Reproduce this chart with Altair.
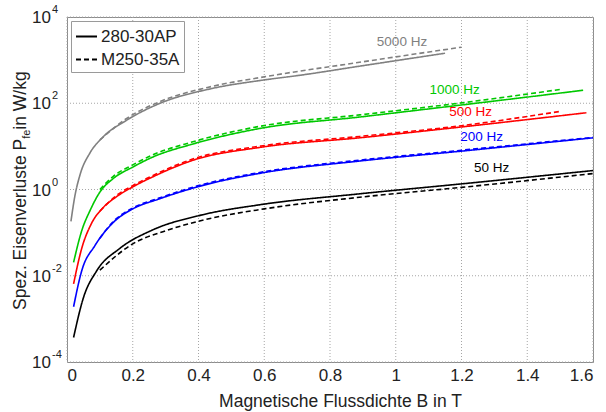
import altair as alt
import pandas as pd

FONT = "Liberation Sans"
TXT = "#222222"

# ---------------- data ----------------
freqs = ["50 Hz", "200 Hz", "500 Hz", "1000 Hz", "5000 Hz"]
freq_colors = ["#000000", "#0000ff", "#ff0000", "#00c800", "#808080"]
materials = ["280-30AP", "M250-35A"]

# 50 Hz
B50_ap = [0.02, 0.05, 0.09, 0.16, 0.26, 0.41, 0.59, 0.89, 1.2, 1.6]
P50_ap = [3.7e-4, 3.1e-3, 0.0129, 0.0427, 0.115, 0.257, 0.447, 0.794, 1.35, 2.75]
B50_a = [0.1, 0.2, 0.3, 0.42, 0.6, 0.89, 1.2, 1.6]
P50_a = [0.0135, 0.055, 0.11, 0.2, 0.355, 0.661, 1.12, 2.34]
# 200 Hz
B200_ap = [0.02, 0.045, 0.085, 0.14, 0.2, 0.28, 0.4, 0.59, 0.89, 1.2, 1.6]
P200_ap = [1.91e-3, 0.0132, 0.0501, 0.17, 0.355, 0.603, 1.17, 2.4, 4.57, 7.76, 15.8]
B200_a = [0.1, 0.14, 0.2, 0.28, 0.4, 0.59, 0.89, 1.2, 1.6]
P200_a = [0.0741, 0.178, 0.372, 0.631, 1.23, 2.51, 4.79, 8.13, 16.2]
# 500 Hz
B500_ap = [0.02, 0.045, 0.075, 0.11, 0.15, 0.2, 0.26, 0.38, 0.59, 0.89, 1.2, 1.58]
P500_ap = [6.5e-3, 0.0437, 0.166, 0.38, 0.676, 1.15, 1.95, 4.68, 9.55, 15.8, 28.2, 60.3]
B500_a = [0.1, 0.15, 0.2, 0.26, 0.38, 0.59, 0.89, 1.2, 1.5]
P500_a = [0.316, 0.724, 1.23, 2.09, 5.01, 10.2, 17.0, 30.2, 64.6]
# 1000 Hz
B1000_ap = [0.02, 0.045, 0.07, 0.1, 0.14, 0.2, 0.26, 0.38, 0.59, 0.89, 1.2, 1.57]
P1000_ap = [0.0204, 0.112, 0.324, 0.871, 1.78, 3.31, 5.62, 11.2, 26.3, 47.9, 91.2, 200]
B1000_a = [0.1, 0.14, 0.2, 0.26, 0.38, 0.59, 0.89, 1.2, 1.5]
P1000_a = [1.0, 2.0, 3.72, 6.31, 12.6, 29.5, 53.7, 102, 209]
# 5000 Hz
B5000_ap = [0.012, 0.024, 0.04, 0.07, 0.11, 0.18, 0.28, 0.44, 0.59, 0.71, 0.89, 1.15]
P5000_ap = [0.182, 0.708, 2.24, 7.08, 16.6, 39.8, 97.7, 219, 339, 447, 724, 1445]
B5000_a = [0.1, 0.18, 0.28, 0.44, 0.59, 0.89, 1.2]
P5000_a = [14.1, 43.7, 107, 245, 398, 891, 1995]

# curve labels
label_text = ["5000 Hz", "1000 Hz", "500 Hz", "200 Hz", "50 Hz"]
label_B = [1.019, 1.179, 1.228, 1.261, 1.292]
label_P = [2690, 200, 63, 16.4, 3.08]

x_ticks = [0, 0.2, 0.4, 0.6, 0.8, 1.0, 1.2, 1.4, 1.6]
y_ticks = [1e-4, 1e-2, 1, 1e2, 1e4]
y_exps = ["-4", "-2", "0", "2", "4"]

# ---------------- build tables ----------------
series = [
    ("50 Hz", "280-30AP", B50_ap, P50_ap), ("50 Hz", "M250-35A", B50_a, P50_a),
    ("200 Hz", "280-30AP", B200_ap, P200_ap), ("200 Hz", "M250-35A", B200_a, P200_a),
    ("500 Hz", "280-30AP", B500_ap, P500_ap), ("500 Hz", "M250-35A", B500_a, P500_a),
    ("1000 Hz", "280-30AP", B1000_ap, P1000_ap), ("1000 Hz", "M250-35A", B1000_a, P1000_a),
    ("5000 Hz", "280-30AP", B5000_ap, P5000_ap), ("5000 Hz", "M250-35A", B5000_a, P5000_a),
]
rows = []
for f, m, bs, ps in series:
    for b, p in zip(bs, ps):
        rows.append({"freq": f, "material": m, "B": b, "P": p, "key": f + "|" + m})
df = pd.DataFrame(rows)
labels_df = pd.DataFrame({"freq": label_text, "B": label_B, "P": label_P})
ytick_df = pd.DataFrame({"P": y_ticks, "base": ["10"] * len(y_ticks), "exp": y_exps})
xgrid_df = pd.DataFrame({"B": x_ticks})
ygrid_df = pd.DataFrame({"P": y_ticks})

W, H = 526, 345
x_scale = alt.Scale(domain=[0, 1.6], nice=False, zero=False)
y_scale = alt.Scale(type="log", domain=[1e-4, 1e4], nice=False)
color = alt.Color("freq:N", scale=alt.Scale(domain=freqs, range=freq_colors), legend=None)

ax_kw = dict(grid=False, ticks=False, domain=False)

x_axis = alt.Axis(
    values=x_ticks, labelFontSize=17, labelFont=FONT, labelColor=TXT,
    labelPadding=5,
    labelExpr="datum.value == 0 ? '0' : datum.value == 1 ? '1' : format(datum.value, '.1f')",
    title="Magnetische Flussdichte B in T", titleFont=FONT, titleFontSize=17.5,
    titleFontWeight="normal", titleColor=TXT, titleX=273, titleY=44,
    titleBaseline="alphabetic", titleAlign="center", **ax_kw)
y_axis = alt.Axis(values=y_ticks, labels=False, title=None, **ax_kw)

X = alt.X("B:Q", scale=x_scale, axis=x_axis)
Y = alt.Y("P:Q", scale=y_scale, axis=y_axis)

GRID = dict(color="#a6a6a6", strokeWidth=1, strokeDash=[1, 2], opacity=1)
xgrid = alt.Chart(xgrid_df).mark_rule(**GRID).encode(x=X)
ygrid = alt.Chart(ygrid_df).mark_rule(**GRID).encode(y=Y)

lines = alt.Chart(df).mark_line(strokeWidth=1.6, clip=True, interpolate="monotone").encode(
    x=X,
    y=Y,
    color=color,
    strokeDash=alt.StrokeDash("material:N", scale=alt.Scale(domain=materials, range=[[1, 0], [5, 3]]),
                              legend=alt.Legend(title=None, orient="top-left", offset=4, padding=4,
                                                fillColor="white", strokeColor="#9a9a9a",
                                                labelFontSize=17, labelFont=FONT, labelColor=TXT,
                                                symbolType="stroke", symbolSize=441,
                                                symbolStrokeWidth=2, symbolStrokeColor="black",
                                                rowPadding=3, labelOffset=3, cornerRadius=0)),
    detail="key:N",
    order="B:Q",
)

curve_labels = alt.Chart(labels_df).mark_text(fontSize=13.5, font=FONT, align="center",
                                              baseline="middle").encode(
    x=X, y=Y, text="freq:N", color=color,
)

ybase = alt.Chart(ytick_df).mark_text(align="right", baseline="middle", fontSize=17,
                                      font=FONT, color=TXT, dy=1).encode(
    x=alt.value(-16), y=Y, text="base:N")
yexp = alt.Chart(ytick_df).mark_text(align="left", baseline="middle", fontSize=11,
                                     font=FONT, color=TXT, dy=-7).encode(
    x=alt.value(-15), y=Y, text="exp:N")

# y-axis title with subscript, pieces placed with Arial/Liberation metrics
AW = {" ": 278, ".": 278, "/": 278, "S": 667, "p": 556, "e": 556, "z": 500, "E": 667,
      "i": 222, "s": 500, "n": 556, "v": 500, "r": 333, "l": 222, "u": 556, "t": 278,
      "P": 667, "f": 278, "W": 944, "k": 500, "g": 556}


def tw(s, size):
    return sum(AW.get(c, 556) for c in s) * size / 1000.0


t_main, t_sub, t_rest = "Spez. Eisenverluste P", "fe", " in W/kg"
FS, FSS = 17.5, 11
y0 = 310 - 17  # start (bottom) in plot coordinates
base_x = 26 - 67
parts = [
    (t_main, FS, base_x, y0),
    (t_sub, FSS, base_x + 3.5, y0 - tw(t_main, FS)),
    (t_rest, FS, base_x, y0 - tw(t_main, FS) - tw(t_sub, FSS)),
]
ytitle_layers = []
for txt, fs, xx, yy in parts:
    ytitle_layers.append(
        alt.Chart(pd.DataFrame({"t": [txt]})).mark_text(
            angle=270, align="left", baseline="alphabetic", fontSize=fs, font=FONT, color=TXT
        ).encode(x=alt.value(xx), y=alt.value(yy), text="t:N")
    )

chart = alt.layer(xgrid, ygrid, lines, curve_labels, ybase, yexp, *ytitle_layers).properties(
    width=W, height=H,
    padding={"left": 67, "top": 17, "right": 13, "bottom": 50},
    autosize=alt.AutoSizeParams(type="none"),
).configure_view(stroke="#8c8c8c", strokeWidth=1)

chart.save("out.html", embed_options={"renderer": "svg", "actions": False})
